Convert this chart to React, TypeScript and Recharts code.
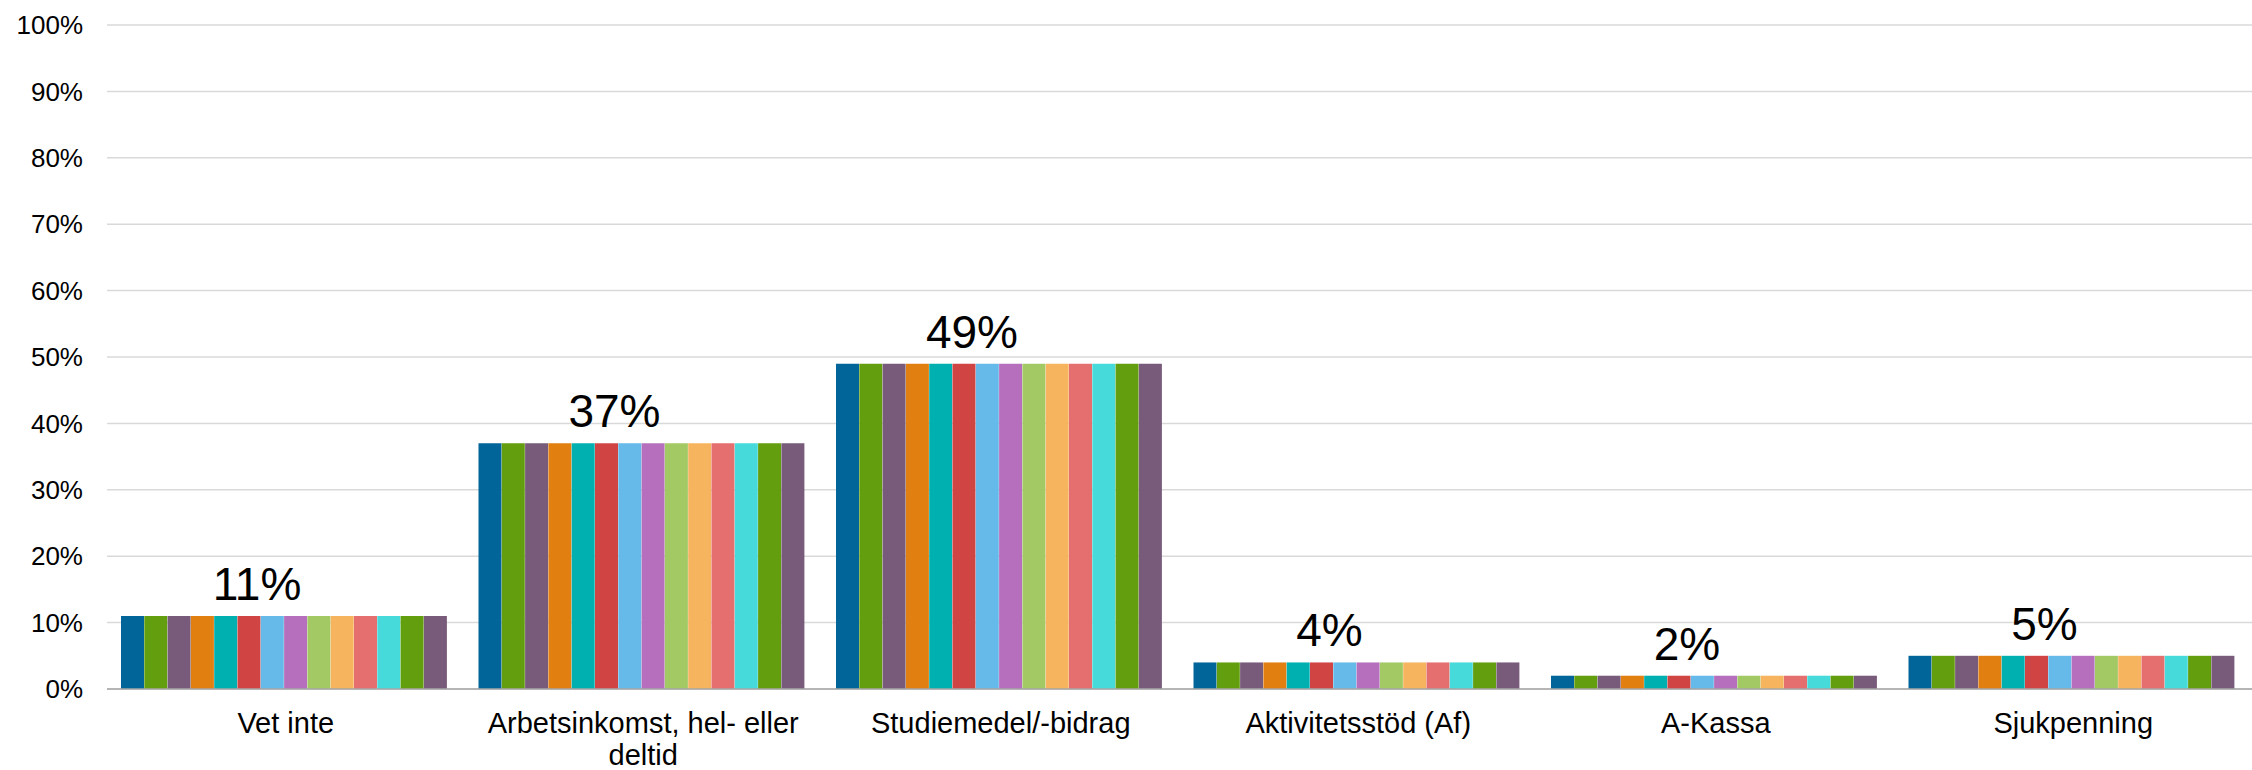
import { BarChart, Bar, XAxis, YAxis, CartesianGrid, LabelList } from 'recharts';

const CATEGORIES = [
  'Vet inte',
  'Arbetsinkomst, hel- eller deltid',
  'Studiemedel/-bidrag',
  'Aktivitetsstöd (Af)',
  'A-Kassa',
  'Sjukpenning',
];

const VALUES = [11, 37, 49, 4, 2, 5];

const SERIES = [
  'Serie 1', 'Serie 2', 'Serie 3', 'Serie 4', 'Serie 5', 'Serie 6', 'Serie 7',
  'Serie 8', 'Serie 9', 'Serie 10', 'Serie 11', 'Serie 12', 'Serie 13', 'Serie 14',
];

const COLORS = [
  '#02659A', '#639E0F', '#785B7B', '#E17F10', '#00AFAF', '#D14444', '#66BAEA',
  '#B56FBD', '#A3C965', '#F6B45E', '#E46F6E', '#46DADA', '#639E0F', '#785B7B',
];

const Y_TICKS = [0, 10, 20, 30, 40, 50, 60, 70, 80, 90, 100];

const FONT = '"Liberation Sans", Arial, sans-serif';

// one row per category, every series carries the category's share
const data = CATEGORIES.map((name, i) => {
  const row: Record<string, string | number> = { name };
  SERIES.forEach((_, s) => {
    row[`s${s}`] = VALUES[i];
  });
  return row;
});

let ctx: CanvasRenderingContext2D | null = null;

// greedy word wrap measured on a canvas
function wrap(text: string, maxWidth: number, font: string): string[] {
  if (!ctx) ctx = document.createElement('canvas').getContext('2d');
  if (!ctx) return [text];
  ctx.font = font;
  const lines: string[] = [];
  let line = '';
  text.split(' ').forEach((word) => {
    const next = line ? `${line} ${word}` : word;
    if (line && ctx!.measureText(next).width > maxWidth) {
      lines.push(line);
      line = word;
    } else {
      line = next;
    }
  });
  if (line) lines.push(line);
  return lines;
}

const CategoryTick = (props: any) => {
  const { x, y, payload } = props;
  const lines = wrap(String(payload.value), 330, `29px ${FONT}`);
  return (
    <text
      x={x}
      y={y}
      textAnchor="middle"
      fill="#000"
      style={{ fontSize: 29, fontFamily: FONT }}
    >
      {lines.map((l, i) => (
        <tspan key={i} x={x} dy={i === 0 ? 20 : 32}>
          {l}
        </tspan>
      ))}
    </text>
  );
};

export default function App() {
  return (
    <div style={{ width: 2252, height: 770 }}>
      <style>{'body{margin:0}'}</style>
      <BarChart
        width={2252}
        height={770}
        data={data}
        margin={{ top: 25, right: 0, bottom: 0, left: 0 }}
        barGap={0.3}
        barCategoryGap={14}
      >
        <CartesianGrid vertical={false} stroke="#d9d9d9" strokeWidth={1.5} />
        <XAxis
          dataKey="name"
          height={81}
          axisLine={{ stroke: '#a6a6a6', strokeWidth: 1.5 }}
          tickLine={false}
          tickSize={0}
          tickMargin={24}
          interval={0}
          tick={<CategoryTick />}
        />
        <YAxis
          width={107}
          domain={[0, 100]}
          ticks={Y_TICKS}
          axisLine={false}
          tickLine={false}
          tickSize={0}
          tickMargin={24}
          tickFormatter={(v: number) => `${v}%`}
          tick={{ fontSize: 26, fill: '#000', fontFamily: FONT }}
        />
        {SERIES.map((name, s) => (
          <Bar
            key={name}
            dataKey={`s${s}`}
            name={name}
            fill={COLORS[s]}
            isAnimationActive={false}
          >
            {s === 5 && (
              <LabelList
                dataKey={`s${s}`}
                position="top"
                offset={16}
                dx={8}
                formatter={(v: any) => `${v}%`}
                style={{ fontSize: 46, fill: '#000', fontFamily: FONT }}
              />
            )}
          </Bar>
        ))}
      </BarChart>
    </div>
  );
}
